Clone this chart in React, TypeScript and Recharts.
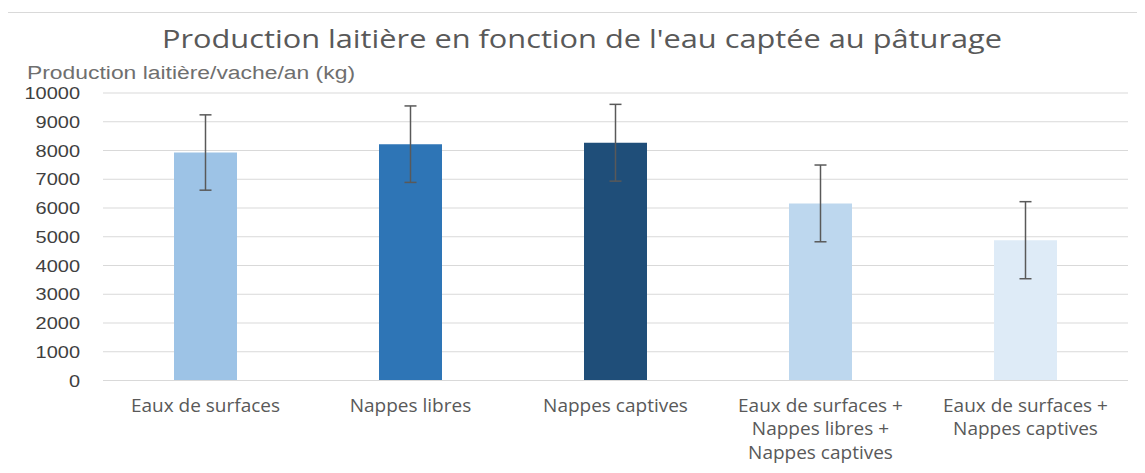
import React from 'react';
import { BarChart, Bar, XAxis, YAxis, CartesianGrid, ErrorBar, Cell, Customized } from 'recharts';

const categories = [
  'Eaux de surfaces',
  'Nappes libres',
  'Nappes captives',
  'Eaux de surfaces +\nNappes libres +\nNappes captives',
  'Eaux de surfaces +\nNappes captives',
];
const production = [7930, 8220, 8270, 6160, 4880];
const errors = [1310, 1330, 1335, 1335, 1340];
const barColors = ['#9dc3e6', '#2e75b6', '#1f4e79', '#bdd7ee', '#deebf7'];
const yTicks = [0, 1000, 2000, 3000, 4000, 5000, 6000, 7000, 8000, 9000, 10000];
const title = "Production laitière en fonction de l'eau captée au pâturage";
const yLabel = 'Production laitière/vache/an (kg)';

const data = categories.map((c, i) => ({ name: c, value: production[i], err: errors[i] }));

const YTick = (props: any) => {
  const { x, y, payload } = props;
  const s = String(payload.value);
  return (
    <text
      x={x}
      y={y}
      dy="0.36em"
      textAnchor="end"
      fill="#404040"
      fontFamily="'Liberation Sans', Arial, sans-serif"
      fontSize={17}
      textLength={s.length * 11.1}
      lengthAdjust="spacingAndGlyphs"
    >
      {s}
    </text>
  );
};

const XTick = (props: any) => {
  const { x, y, payload } = props;
  const lines = String(payload.value).split('\n');
  return (
    <text
      x={x}
      y={y}
      textAnchor="middle"
      fill="#595959"
      fontFamily="'Open Sans', sans-serif"
      fontSize={19}
    >
      {lines.map((l, i) => (
        <tspan key={i} x={x} y={y + 31 + i * 23.5}>
          {l}
        </tspan>
      ))}
    </text>
  );
};

const Titles = () => (
  <g>
    <text
      x={582}
      y={48}
      textAnchor="middle"
      fill="#595959"
      fontFamily="'Open Sans', sans-serif"
      fontSize={25}
      textLength={840}
      lengthAdjust="spacingAndGlyphs"
    >
      {title}
    </text>
    <text
      x={27}
      y={79}
      fill="#6f6f6f"
      fontFamily="'Liberation Sans', Arial, sans-serif"
      fontSize={18}
      textLength={328}
      lengthAdjust="spacingAndGlyphs"
    >
      {yLabel}
    </text>
  </g>
);

export default function App() {
  return (
    <div style={{ position: 'relative', margin: -8, width: 1145, height: 473, background: '#fff', overflow: 'hidden' }}>
      <div
        style={{
          position: 'absolute',
          left: 7,
          top: 12,
          width: 1150,
          height: 480,
          border: '1px solid #d9d9d9',
          boxSizing: 'border-box',
        }}
      />
      <div style={{ position: 'absolute', left: 0, top: 0 }}>
        <BarChart
          width={1145}
          height={473}
          data={data}
          margin={{ top: 93, right: 17, bottom: 0, left: 0 }}
          barSize={63}
        >
          <CartesianGrid vertical={false} stroke="#d9d9d9" strokeWidth={1} />
          <XAxis
            dataKey="name"
            height={92.5}
            axisLine={{ stroke: '#d9d9d9' }}
            tickLine={false}
            tickSize={0}
            tickMargin={0}
            interval={0}
            tick={(p: any) => <XTick {...p} />}
          />
          <YAxis
            width={103}
            domain={[0, 10000]}
            ticks={yTicks}
            axisLine={false}
            tickLine={false}
            tickSize={0}
            tickMargin={23}
            interval={0}
            tick={(p: any) => <YTick {...p} />}
          />
          <Bar dataKey="value" isAnimationActive={false}>
            {data.map((d, i) => (
              <Cell key={i} fill={barColors[i]} />
            ))}
            <ErrorBar dataKey="err" width={6} strokeWidth={1.5} stroke="#595959" isAnimationActive={false} />
          </Bar>
          <Customized component={Titles} />
        </BarChart>
      </div>
    </div>
  );
}
